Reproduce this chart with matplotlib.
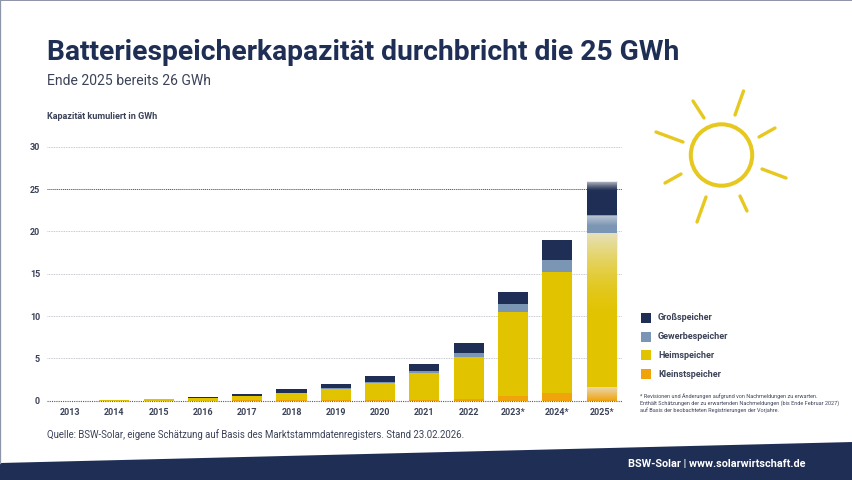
# Batteriespeicher chart
import numpy as np
import matplotlib
matplotlib.use("Agg")
import matplotlib.pyplot as plt
from matplotlib.patches import Polygon, Circle

plt.rcParams["font.family"] = ["Roboto", "DejaVu Sans"]

# =========================
# DATEN
# =========================
jahre = ["2013", "2014", "2015", "2016", "2017", "2018", "2019", "2020",
         "2021", "2022", "2023*", "2024*", "2025*"]
klein = [0.0, 0.0, 0.01, 0.02, 0.03, 0.05, 0.06, 0.08, 0.1, 0.15, 0.55, 0.95, 1.65]
heim = [0.01, 0.06, 0.17, 0.26, 0.55, 0.82, 1.34, 2.02, 3.2, 5.05, 9.9, 14.3, 18.15]
gewerbe = [0.0, 0.0, 0.0, 0.02, 0.02, 0.08, 0.05, 0.15, 0.2, 0.4, 0.95, 1.35, 2.0]
gross = [0.0, 0.02, 0.02, 0.15, 0.2, 0.45, 0.55, 0.65, 0.8, 1.2, 1.45, 2.4, 4.05]
y_ticks = [0, 5, 10, 15, 20, 25, 30]

legende = ["Großspeicher", "Gewerbespeicher", "Heimspeicher", "Kleinstspeicher"]

NAVY = "#1f2e54"
BLAU = "#7b95b4"
GELB = "#e2c300"
ORANGE = "#f0a30a"
SONNE = "#e6c81e"
TEXT = "#3c4358"
W, H = 853, 480


def fx(px):
    return px / W


def fy(py):
    return 1 - py / H


fig = plt.figure(figsize=(W / 100, H / 100), dpi=100, facecolor="white")

# hintergrund: rahmen und fussband
bg = fig.add_axes([0, 0, 1, 1], zorder=0)
bg.set_xlim(0, W)
bg.set_ylim(H, 0)
bg.axis("off")
bg.add_patch(Polygon([[0, 463], [853, 442], [853, 480], [0, 480]], color=NAVY, lw=0))
bg.plot([0, 853], [0.4, 0.4], color="#6f7590", lw=1.1)
bg.plot([0.4, 0.4], [0, 463], color="#8d95a8", lw=0.9)

# sonne
bg.add_patch(Circle((721.5, 155), 30.7, fill=False, ec=SONNE, lw=2.9))
strahlen = [(743.5, 91, 735, 115), (693, 101, 704, 118), (656, 132, 683, 142),
            (775, 128, 759, 137), (665, 183, 681, 174), (786, 178, 762, 169),
            (697, 222, 706, 197), (747, 211, 740, 196)]
for x0, y0, x1, y1 in strahlen:
    bg.plot([x0, x1], [y0, y1], color=SONNE, lw=2.4, solid_capstyle="round")

# =========================
# BALKEN
# =========================
ax = fig.add_axes([fx(47), fy(400.7), fx(622 - 47), 253.8 / H], zorder=2)
ax.patch.set_alpha(0)
x = np.arange(len(jahre))
breite = 0.68
unten = np.zeros(len(jahre))
for werte, farbe in zip([klein, heim, gewerbe, gross], [ORANGE, GELB, BLAU, NAVY]):
    ax.bar(x, werte, breite, bottom=unten, color=farbe, lw=0, zorder=3)
    unten = unten + np.array(werte)

# 2025 verblasst nach oben in jedem segment
letzter = len(jahre) - 1
oben_klein = klein[-1]
oben_heim = oben_klein + heim[-1]
oben_gew = oben_heim + gewerbe[-1]
oben_gross = oben_gew + gross[-1]
obergrenzen = [oben_klein, oben_heim, oben_gew, oben_gross]
laengen = [oben_klein, 10.5, 1.2, 1.1]
staerken = [0.75, 0.8, 0.6, 0.8]
kurven = [1.0, 1.8, 1.0, 1.3]
for o, lg, st, ku in zip(obergrenzen, laengen, staerken, kurven):
    grad = np.ones((64, 2, 4))
    grad[:, :, :3] = 0.91
    grad[:, :, 3] = (st * np.linspace(1, 0, 64) ** ku)[:, None]
    ax.imshow(grad, extent=[letzter - breite / 2, letzter + breite / 2, o - lg, o],
              origin="upper", aspect="auto", zorder=4, interpolation="bilinear")

ax.set_xlim(-0.52, 12.46)
ax.set_ylim(0, 30)
ax.set_yticks(y_ticks)
ax.set_yticklabels([str(v) for v in y_ticks])
ax.set_xticks(x)
ax.set_xticklabels(jahre)
ax.tick_params(length=0, labelsize=6.5, labelcolor=TEXT, pad=5)
for lab in ax.get_xticklabels() + ax.get_yticklabels():
    lab.set_fontweight("bold")
for s in ax.spines.values():
    s.set_visible(False)
ax.grid(axis="y", color="#b4b8c0", lw=0.6, ls=(0, (1, 1)), zorder=1)
ax.axhline(25, color="#555b6c", lw=0.7, ls=(0, (1, 1)), zorder=2)
ax.axhline(0, color="#555b6c", lw=0.8, ls=(0, (1, 1)), zorder=5, clip_on=False)

# =========================
# TEXTE
# =========================
fig.text(fx(47), fy(60), "Batteriespeicherkapazität durchbricht die 25 GWh",
         fontsize=20.3, fontweight="bold", color=NAVY)
fig.text(fx(47), fy(85), "Ende 2025 bereits 26 GWh", fontsize=10.1, color=TEXT)
fig.text(fx(47), fy(119), "Kapazität kumuliert in GWh", fontsize=6.5,
         fontweight="bold", color=TEXT)
fig.text(fx(47), fy(438), "Quelle: BSW-Solar, eigene Schätzung auf Basis des "
         "Marktstammdatenregisters. Stand 23.02.2026.", fontsize=6.95, color=TEXT)
fig.text(fx(806), fy(466.5), "BSW-Solar | www.solarwirtschaft.de", fontsize=7.85,
         fontweight="bold", color="white", ha="right")

for i, (name, farbe) in enumerate(zip(legende, [NAVY, BLAU, GELB, ORANGE])):
    py = 318 + i * 18.7
    bg.add_patch(plt.Rectangle((641, py - 5), 10, 10, color=farbe, lw=0))
    bg.text(658, py, name, fontsize=6.5, fontweight="bold", color=TEXT, va="center")

fussnote = ("* Revisionen und Änderungen aufgrund von Nachmeldungen zu erwarten.\n"
            "Enthält Schätzungen der zu erwartenden Nachmeldungen (bis Ende Februar 2027)\n"
            "auf Basis der beobachteten Registrierungen der Vorjahre.")
bg.text(640, 393, fussnote, fontsize=4.0, color=TEXT, va="top", linespacing=1.25)

fig.savefig("out.png", dpi=100)
